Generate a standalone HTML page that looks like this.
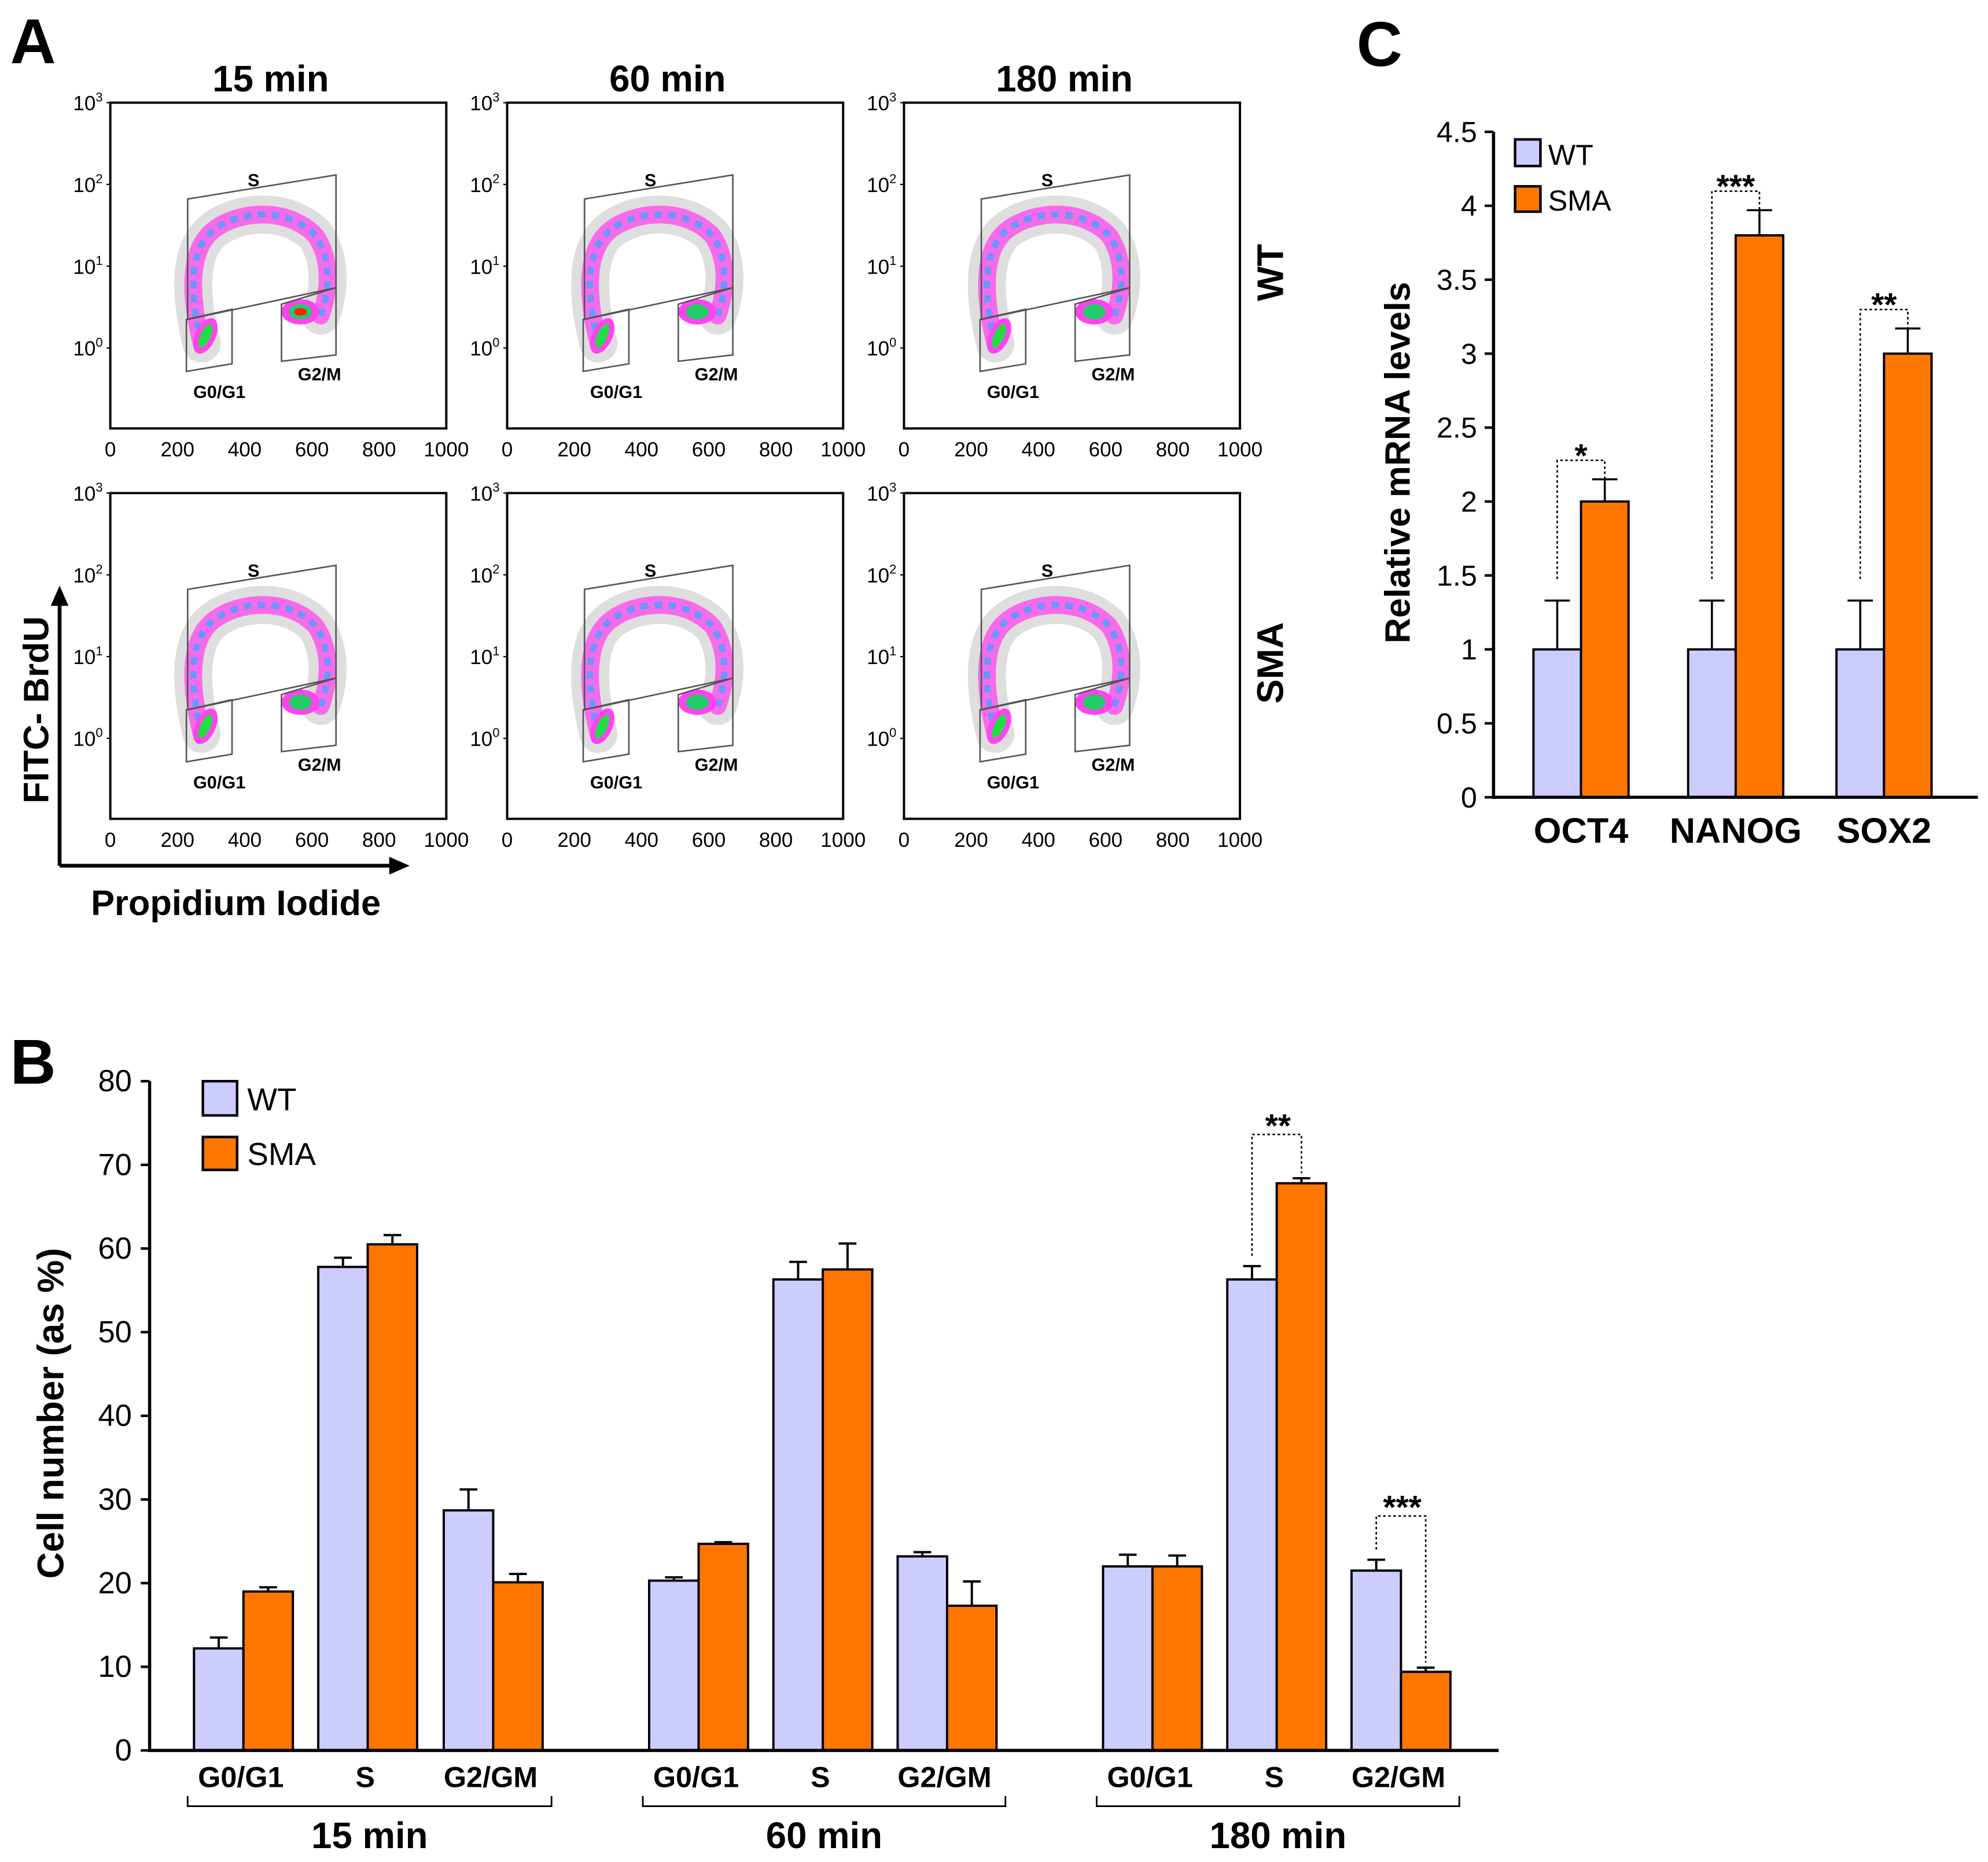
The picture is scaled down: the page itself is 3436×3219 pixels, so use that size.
<!DOCTYPE html>
<html><head><meta charset="utf-8">
<style>
html,body{margin:0;padding:0;background:#fff;}
svg{display:block;font-family:"Liberation Sans",Arial,sans-serif;}
.b{font-weight:bold;}
.n{font-family:"Liberation Sans Narrow","Liberation Sans",sans-serif;}
</style></head>
<body>
<svg id="fig" width="3436" height="3219" viewBox="0 0 1568 1469" xmlns="http://www.w3.org/2000/svg">
<g id="panelA"></g>
<g id="panelB"></g>
<g id="panelC"></g>
</svg>
<script>
// ---- Panel B data ----
const bCategories = ["G0/G1","S","G2/GM","G0/G1","S","G2/GM","G0/G1","S","G2/GM"];
const bGroups = ["15 min","60 min","180 min"];
const bWT = [12.2,57.8,28.7,20.3,56.3,23.2,22.0,56.3,21.5];
const bWTerr = [1.3,1.1,2.5,0.4,2.1,0.5,1.4,1.6,1.3];
const bSMA = [19.0,60.5,20.1,24.7,57.5,17.3,22.0,67.8,9.4];
const bSMAerr = [0.5,1.1,1.0,0.2,3.1,2.9,1.3,0.6,0.5];
const bTicks = [0,10,20,30,40,50,60,70,80];
// ---- Panel C data ----
const cCategories = ["OCT4","NANOG","SOX2"];
const cWT = [1,1,1];
const cWTerr = [0.33,0.33,0.33];
const cSMA = [2.0,3.8,3.0];
const cSMAerr = [0.15,0.17,0.17];
const cTicks = ["0","0.5","1","1.5","2","2.5","3","3.5","4","4.5"];
const cSig = ["*","***","**"];

const NS="http://www.w3.org/2000/svg";
function el(parent,tag,attrs,text){const e=document.createElementNS(NS,tag);for(const k in attrs)e.setAttribute(k,attrs[k]);if(text!==undefined)e.textContent=text;parent.appendChild(e);return e;}
const WTC="#ccccff", SMAC="#ff7700";

// ===== Panel B =====
(function(){
const g=document.getElementById('panelB');
const x0=118,x1=1182,yTop=853,yBot=1381,vmax=80;
const y=v=>yBot-(v/vmax)*(yBot-yTop);
const centers=[192,290,389,551,649,747,909,1007,1105];
const cx=i=>centers[i];
const bw=39;
let t=el(g,'text',{x:8,y:855,'font-size':50,class:'b'},'B');


bTicks.forEach(v=>{
 const tk=el(g,'line',{x1:111,x2:x0,y1:y(v),y2:y(v),stroke:'#000','stroke-width':2});
 
 
 const tl=el(g,'text',{x:104,y:y(v)+8,'font-size':24,'text-anchor':'end',class:'n'},String(v));
 
 
});
const yt=el(g,'text',{transform:'translate(50,1115) rotate(-90)','font-size':29,'text-anchor':'middle',class:'b'},'Cell number (as %)');


bCategories.forEach((c,i)=>{
 const c0=cx(i);
 [[bWT,bWTerr,WTC,-1],[bSMA,bSMAerr,SMAC,0]].forEach(([vals,errs,col,off])=>{
  const xl=c0+off*bw, yv=y(vals[i]), ye=y(vals[i]+errs[i]), xc=xl+bw/2;
  const er=el(g,'path',{d:`M${xc},${yv}V${ye}M${xc-7},${ye}H${xc+7}`,stroke:'#000','stroke-width':1.8,fill:'none'});
  
  
  const r=el(g,'rect',{x:xl,y:yv,width:bw,height:yBot-yv,fill:col,stroke:'#000','stroke-width':1.8});
  
  
 });
 const cl=el(g,'text',{x:c0-2,y:1410,'font-size':23,'text-anchor':'middle',class:'b'},c);
 
 
});
const ax=el(g,'path',{d:`M${x0},${yTop}V${yBot}H${x1}`,stroke:'#000','stroke-width':2.5,fill:'none'});


bGroups.forEach((gname,k)=>{
 const a=cx(k*3)-44,b=cx(k*3+2)+46;
 const br=el(g,'path',{d:`M${a},1417V1425H${b}V1417`,stroke:'#000','stroke-width':1.3,fill:'none'});
 
 
 const gl=el(g,'text',{x:(a+b)/2,y:1458,'font-size':29,'text-anchor':'middle',class:'b'},gname);
 
 
});
function sig(i,topY,label){
 const a=cx(i)-bw/2,b=cx(i)+bw/2;
 const p=el(g,'path',{d:`M${a},${y(bWT[i]+bWTerr[i])-8}V${topY}H${b}V${y(bSMA[i]+bSMAerr[i])-4}`,stroke:'#000','stroke-width':1.2,'stroke-dasharray':'2,2',fill:'none'});
 
 
 const s=el(g,'text',{x:(a+b)/2+1,y:topY+2,'font-size':26,'text-anchor':'middle',class:'b'},label);
 
 
}
sig(7,895,'**');sig(8,1196,'***');
const l1=el(g,'rect',{x:160,y:853,width:27,height:27,fill:WTC,stroke:'#000','stroke-width':2});


const l2=el(g,'text',{x:195,y:876,'font-size':25,class:'n'},'WT');


const l3=el(g,'rect',{x:160,y:897,width:27,height:26,fill:SMAC,stroke:'#000','stroke-width':2});


const l4=el(g,'text',{x:195,y:919,'font-size':25,class:'n'},'SMA');


})();

// ===== Panel C =====
(function(){
const g=document.getElementById('panelC');
const x0=1178,x1=1560,yTop=104,yBot=629,vmax=4.5;
const y=v=>yBot-(v/vmax)*(yBot-yTop);
const centers=[1247,1369,1486];
const bw=37.5;
const lab=el(g,'text',{x:1070,y:52,'font-size':50,class:'b'},'C');


cTicks.forEach(s=>{
 const v=parseFloat(s);
 const tk=el(g,'line',{x1:1171,x2:x0,y1:y(v),y2:y(v),stroke:'#000','stroke-width':2});
 
 
 const tl=el(g,'text',{x:1165,y:y(v)+8,'font-size':23,'text-anchor':'end'},s);
 
 
});
const yt=el(g,'text',{transform:'translate(1112,365) rotate(-90)','font-size':28,'text-anchor':'middle',class:'b'},'Relative mRNA levels');


cCategories.forEach((c,i)=>{
 const c0=centers[i];
 [[cWT,cWTerr,WTC,-1],[cSMA,cSMAerr,SMAC,0]].forEach(([vals,errs,col,off])=>{
  const xl=c0+off*bw, yv=y(vals[i]), ye=y(vals[i]+errs[i]), xc=xl+bw/2;
  const er=el(g,'path',{d:`M${xc},${yv}V${ye}M${xc-10},${ye}H${xc+10}`,stroke:'#000','stroke-width':1.6,fill:'none'});
  
  
  const r=el(g,'rect',{x:xl,y:yv,width:bw,height:yBot-yv,fill:col,stroke:'#000','stroke-width':1.8});
  
  
 });
 const cl=el(g,'text',{x:c0,y:665,'font-size':28,'text-anchor':'middle',class:'b'},c);
 
 
 const a=c0-bw/2,b=c0+bw/2,top=y(cSMA[i]+cSMAerr[i])-15;
 const p=el(g,'path',{d:`M${a},${y(cWT[i]+cWTerr[i])-17}V${top}H${b}V${top+15}`,stroke:'#000','stroke-width':1.2,'stroke-dasharray':'2,2',fill:'none'});
 
 
 const s=el(g,'text',{x:(a+b)/2,y:top+5,'font-size':26,'text-anchor':'middle',class:'b'},cSig[i]);
 
 
});
const ax=el(g,'path',{d:`M${x0},${yTop}V${yBot}H${x1}`,stroke:'#000','stroke-width':2.5,fill:'none'});


const l1=el(g,'rect',{x:1195,y:110,width:20,height:21,fill:WTC,stroke:'#000','stroke-width':2});


const l2=el(g,'text',{x:1221,y:130,'font-size':23},'WT');


const l3=el(g,'rect',{x:1195,y:147,width:20,height:20,fill:SMAC,stroke:'#000','stroke-width':2});


const l4=el(g,'text',{x:1221,y:166,'font-size':23},'SMA');


})();

// ===== Panel A =====
const aTimes=["15 min","60 min","180 min"];
const aRows=["WT","SMA"];
const aXTicks=["0","200","400","600","800","1000"];
const aYExp=["3","2","1","0"];
(function(){
const g=document.getElementById('panelA');
const A=el(g,'text',{x:8,y:50,'font-size':50,class:'b'},'A');


const colX=[87,400,713], rowY=[81,389], W=265, H=257;
aTimes.forEach((t,ci)=>{
 const tt=el(g,'text',{x:colX[ci]+W/2-6,y:72,'font-size':29,'text-anchor':'middle',class:'b'},t);
 
 
});
aRows.forEach((r,ri)=>{
 const rl=el(g,'text',{transform:`translate(1012,${rowY[ri]+134}) rotate(-90)`,'font-size':29,'text-anchor':'middle',class:'b'},r);
 
 
 colX.forEach((x,ci)=>{
  const y=rowY[ri];
  const pg=el(g,'g',{transform:`translate(${x},${y})`});
  
  
  const arch='M72,190 C62,150 62,115 82,100 C102,85 140,82 162,105 C172,120 175,142 166,168';
  el(pg,'path',{d:arch,stroke:'#c8c8c8','stroke-width':30,fill:'none',opacity:0.6,'stroke-linecap':'round'});
  el(pg,'path',{d:arch,stroke:'#ff44ee','stroke-width':14,fill:'none',opacity:0.75,'stroke-linecap':'round'});
  el(pg,'path',{d:arch,stroke:'#4aa0ff','stroke-width':5,fill:'none',opacity:0.8,'stroke-dasharray':'6,5'});
  el(pg,'ellipse',{cx:75,cy:184,rx:8,ry:15,fill:'#ff44ee',transform:'rotate(25 75 184)'});
  el(pg,'ellipse',{cx:75,cy:184,rx:4,ry:10,fill:'#22dd44',transform:'rotate(25 75 184)'});
  el(pg,'ellipse',{cx:150,cy:165,rx:15,ry:10,fill:'#ff44ee'});
  el(pg,'ellipse',{cx:150,cy:165,rx:9,ry:6,fill:'#22cc66'});
  el(pg,'ellipse',{cx:150,cy:165,rx:5,ry:3,fill:ri===0&&ci===0?'#ff2200':'#22cc66'});
  const gs={stroke:'#555','stroke-width':1.2,fill:'none'};
  el(pg,'path',Object.assign({d:'M61,76 L178,57 L178,146 L61,171 Z'},gs));
  el(pg,'path',Object.assign({d:'M60,171 L96,163 L96,206 L60,212 Z'},gs));
  el(pg,'path',Object.assign({d:'M135,159 L178,146 L178,199 L135,204 Z'},gs));
  el(pg,'text',{x:113,y:66,'font-size':14,'text-anchor':'middle',class:'b'},'S');
  el(pg,'text',{x:86,y:233,'font-size':14,'text-anchor':'middle',class:'b'},'G0/G1');
  el(pg,'text',{x:165,y:219,'font-size':14,'text-anchor':'middle',class:'b'},'G2/M');
  el(pg,'rect',{x:0,y:0,width:W,height:H,fill:'none',stroke:'#000','stroke-width':1.8});
  aYExp.forEach((e,k)=>{
   const yy=k*64.5;
   const tl=el(pg,'text',{x:-6,y:yy+6,'font-size':16,'text-anchor':'end'});
   
   
   el(tl,'tspan',{},'10');
   el(tl,'tspan',{dy:-7,'font-size':10},e);
   el(pg,'line',{x1:-3,x2:0,y1:yy,y2:yy,stroke:'#000'});
  });
  aXTicks.forEach((s,k)=>{
   const xx=k*W/5;
   const tl=el(pg,'text',{x:xx,y:H+22,'font-size':16,'text-anchor':'middle'},s);
   
   
  });
 });
});
const ar=el(g,'path',{d:'M47,683V472M47,683H313',stroke:'#000','stroke-width':3,fill:'none'});


el(g,'path',{d:'M47,462 L40,478 L54,478 Z M323,683 L307,676 L307,690 Z',fill:'#000'});
const fy=el(g,'text',{transform:'translate(38,560) rotate(-90)','font-size':28,'text-anchor':'middle',class:'b'},'FITC- BrdU');


const fx=el(g,'text',{x:186,y:722,'font-size':28,'text-anchor':'middle',class:'b'},'Propidium Iodide');


})();
</script>
</body></html>
